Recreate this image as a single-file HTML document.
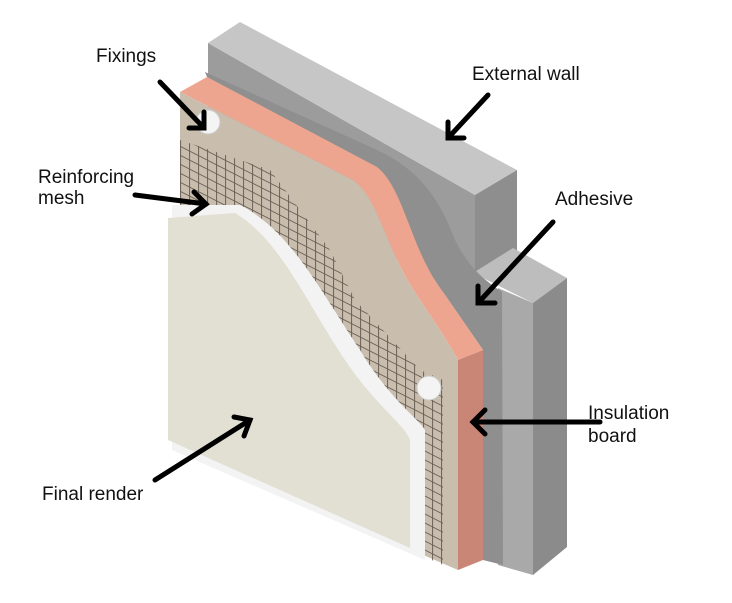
<!DOCTYPE html>
<html><head><meta charset="utf-8"><style>
html,body{margin:0;padding:0;background:#fff;}
svg{display:block}
text{font-family:"Liberation Sans",sans-serif;font-size:19px;fill:#111}
</style></head><body>
<svg width="732" height="603" viewBox="0 0 732 603" xmlns="http://www.w3.org/2000/svg">
<defs>
<pattern id="mesh" width="9" height="9" patternUnits="userSpaceOnUse" patternTransform="skewY(27)">
<path d="M0 0.5H9M0.5 0V9" stroke="#4a4038" stroke-width="1"/>
</pattern>
</defs>
<!-- walls -->
<polygon points="208,43 475,195 475,300 208,160" fill="#9c9c9c"/>
<polygon points="208,43 240,22 517,170 475,195" fill="#c6c6c6"/>
<polygon points="475,195 517,170 517,253 475,278" fill="#8e8e8e"/>
<polygon points="473,273 513,248 567,278 533,303" fill="#bdbdbd"/>
<polygon points="498,288 533,303 533,575 498,565" fill="#a9a9a9"/>
<polygon points="533,303 567,278 567,547 533,575" fill="#8b8b8b"/>
<!-- adhesive -->
<path d="M205,72 L377,150 C420,170 440,200 455,240 C470,270 485,280 502,292 L503,565 L483,560 L483,350 L445,295 C410,250 405,190 377,167 L207,77 Z" fill="#8f8f8f"/>
<!-- insulation -->
<path d="M180,92 L207,77 L377,167 C405,190 410,250 445,295 L483,350 L458,360 C450,345 440,330 420,300 C385,250 380,200 353,180 Z" fill="#eea58f"/>
<polygon points="458,360 483,350 483,560 458,570" fill="#c98575"/>
<!-- base coat -->
<path d="M180,92 L353,180 C380,200 385,250 420,300 C440,330 450,345 458,360 L458,570 L180,450 Z" fill="#c9beae"/>
<!-- mesh -->
<path d="M180,140 L270,170 L330,250 L355,300 L420,370 L443,380 L443,565 L180,450 Z" fill="url(#mesh)" opacity="0.75"/>
<!-- white layer -->
<path d="M172,205 L240,205 C290,230 320,290 360,350 C390,400 420,420 425,430 L425,560 L172,450 Z" fill="#f3f3f3"/>
<!-- render -->
<path d="M168,218 L235,213 C280,240 305,300 345,360 C375,405 405,425 410,440 L410,548 L168,440 Z" fill="#e2dfd3"/>
<!-- fixings -->
<circle cx="208" cy="122" r="12" fill="#f4f4f4" stroke="#ccc"/>
<circle cx="429" cy="388" r="12" fill="#f4f4f4" stroke="#ccc"/>
<!-- arrows -->
<g stroke="#000" stroke-width="5" fill="none" stroke-linecap="round" stroke-linejoin="miter">
<line x1="160" y1="82" x2="204" y2="128"/><polyline points="189,128 204,128 204,112"/>
<line x1="488" y1="95" x2="448" y2="138"/><polyline points="448,122 448,138 464,138"/>
<line x1="135" y1="195" x2="206" y2="204"/><polyline points="194,192 206,204 192,214"/>
<line x1="553" y1="222" x2="478" y2="303"/><polyline points="478,286 478,303 495,303"/>
<line x1="600" y1="422" x2="473" y2="422"/><polyline points="485,410 473,422 485,434"/>
<line x1="155" y1="480" x2="250" y2="420"/><polyline points="234,417 250,420 244,436"/>
</g>
<text x="96" y="62">Fixings</text>
<text x="472" y="80">External wall</text>
<text x="38" y="183">Reinforcing</text>
<text x="38" y="204">mesh</text>
<text x="555" y="205">Adhesive</text>
<text x="588" y="419">Insulation</text>
<text x="588" y="442">board</text>
<text x="42" y="500">Final render</text>
</svg>
</body></html>
